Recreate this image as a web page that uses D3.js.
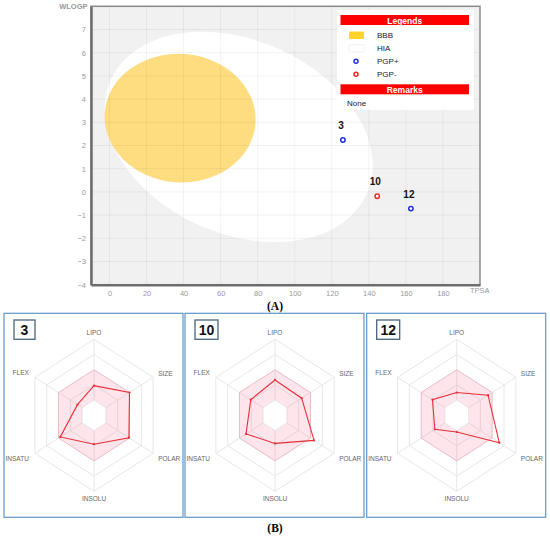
<!DOCTYPE html>
<html>
<head>
<meta charset="utf-8">
<script src="https://cdn.jsdelivr.net/npm/d3@7"></script>
<style>
  body { margin: 0; background: #fff; }
  text { font-family: Arial, "Liberation Sans", sans-serif; }
  text.caption { font-family: "Liberation Serif", "Times New Roman", serif; }
</style>
</head>
<body>
<script>
// ---- data ----
const xTicks = [0, 20, 40, 60, 80, 100, 120, 140, 160, 180];
const yTicks = [-4, -3, -2, -1, 0, 1, 2, 3, 4, 5, 6, 7];

// egg regions: centre (TPSA, WLOGP), semi axes in TPSA / WLOGP units, tilt (deg)
const eggNames = ['HIA', 'BBB'];
const eggCx = [69.7, 38.1];
const eggCy = [2.37, 3.18];
const eggRx = [75.7, 40.8];
const eggRy = [4.17, 2.77];
const eggTilt = [24, 4];

const molIds = ['3', '10', '12'];
const molTPSA = [126, 144.5, 162.7];
const molWLOGP = [2.24, -0.19, -0.72];
const molPGP = ['+', '-', '+'];

const legendLabels = ['BBB', 'HIA', 'PGP+', 'PGP-'];

const radarAxes = ['LIPO', 'SIZE', 'POLAR', 'INSOLU', 'INSATU', 'FLEX'];
const radar3 = [0.39, 0.60, 0.59, 0.38, 0.57, 0.28];
const radar10 = [0.465, 0.45, 0.66, 0.37, 0.49, 0.41];
const radar12 = [0.30, 0.53, 0.72, 0.22, 0.37, 0.41];
const radarSeries = [radar3, radar10, radar12];
const radarLevels = [0.2, 0.4, 0.6, 0.8, 1.0];
const optimalRange = [0.2, 0.6];

const W = 550, H = 538;
const svg = d3.select('body').append('svg')
    .attr('width', W)
    .attr('height', H);

// ---- (A) boiled egg ----
const x = d3.scaleLinear().domain([-10, 200]).range([91, 480]);
const y = d3.scaleLinear().domain([-4, 8]).range([284.7, 6.3]);

const plot = svg.append('g');
plot.append('rect')
    .attr('x', x(-10)).attr('y', y(8))
    .attr('width', x(200) - x(-10)).attr('height', y(-4) - y(8))
    .attr('fill', '#f1f1f1');

const eggColors = ['#ffffff', '#fedd80'];
eggNames.forEach((n, i) => {
    const px = x(eggCx[i]), py = y(eggCy[i]);
    plot.append('ellipse')
        .attr('cx', px).attr('cy', py)
        .attr('rx', x(eggRx[i]) - x(0))
        .attr('ry', y(0) - y(eggRy[i]))
        .attr('fill', eggColors[i])
        .attr('transform', `rotate(${eggTilt[i]}, ${px}, ${py})`);
});

// grid over the egg, very faint
plot.selectAll('.gx').data(xTicks).enter().append('line')
    .attr('x1', d => x(d)).attr('x2', d => x(d))
    .attr('y1', y(8)).attr('y2', y(-4))
    .attr('stroke', 'rgba(0,0,0,0.05)');
plot.selectAll('.gy').data(yTicks).enter().append('line')
    .attr('y1', d => y(d)).attr('y2', d => y(d))
    .attr('x1', x(-10)).attr('x2', x(200))
    .attr('stroke', 'rgba(0,0,0,0.05)');

// frame
plot.append('rect')
    .attr('x', x(-10)).attr('y', y(8))
    .attr('width', x(200) - x(-10)).attr('height', y(-4) - y(8))
    .attr('fill', 'none').attr('stroke', '#8a8a8a').attr('stroke-width', 1.5);

const xAxis = d3.axisBottom(x).tickValues(xTicks).tickSize(0).tickPadding(6);
const yAxis = d3.axisLeft(y).tickValues(yTicks).tickSize(0).tickPadding(5);

plot.append('g').attr('transform', `translate(0, ${y(-4)})`).call(xAxis)
    .call(g => g.select('.domain').attr('stroke', '#6e6e6e').attr('stroke-width', 2.5))
    .call(g => g.selectAll('text').attr('fill', '#999').attr('font-size', 7.5).attr('font-family', 'Arial, sans-serif'));
plot.append('g').attr('transform', `translate(${x(-10)}, 0)`).call(yAxis)
    .call(g => g.select('.domain').attr('stroke', '#6e6e6e').attr('stroke-width', 2.5))
    .call(g => g.selectAll('text').attr('fill', '#999').attr('font-size', 7.5).attr('font-family', 'Arial, sans-serif'));

plot.append('text').attr('x', 87.5).attr('y', 9)
    .attr('text-anchor', 'end').attr('font-size', 7.5).attr('fill', '#999')
    .attr('font-weight', 'bold').text('WLOGP');
plot.append('text').attr('x', 470).attr('y', 293)
    .attr('font-size', 7.5).attr('fill', '#999').text('TPSA');

// molecules
const pgpColor = { '+': '#1f2fe0', '-': '#ee2a24' };
molIds.forEach((id, i) => {
    const px = x(molTPSA[i]), py = y(molWLOGP[i]);
    plot.append('circle')
        .attr('cx', px).attr('cy', py).attr('r', 2.2)
        .attr('fill', '#fff').attr('stroke', pgpColor[molPGP[i]]).attr('stroke-width', 1.5);
    plot.append('text')
        .attr('x', px - 2).attr('y', py - 11)
        .attr('text-anchor', 'middle')
        .attr('font-size', 10).attr('font-weight', 'bold').attr('fill', '#111')
        .text(id);
});

// legend box
const lg = plot.append('g');
lg.append('rect').attr('x', 337).attr('y', 10).attr('width', 137).attr('height', 100).attr('fill', '#fff');
lg.append('rect').attr('x', 340.5).attr('y', 15).attr('width', 128.5).attr('height', 10).attr('fill', '#ff0000');
lg.append('text').attr('x', 404.7).attr('y', 23.5).attr('text-anchor', 'middle')
    .attr('font-size', 8.5).attr('font-weight', 'bold').attr('fill', '#fff').text('Legends');

legendLabels.forEach((lab, i) => {
    const cy = 35.3 + i * 13;
    if (i === 0) {
        lg.append('rect').attr('x', 349).attr('y', cy - 3.7).attr('width', 15).attr('height', 7.4)
            .attr('rx', 1).attr('fill', '#ffd42a');
    } else if (i === 1) {
        lg.append('rect').attr('x', 349).attr('y', cy - 3.7).attr('width', 15).attr('height', 7.4)
            .attr('rx', 1).attr('fill', '#fff').attr('stroke', '#eee').attr('stroke-width', 0.8);
    } else {
        lg.append('circle').attr('cx', 356).attr('cy', cy).attr('r', 2)
            .attr('fill', '#fff').attr('stroke', pgpColor[i === 2 ? '+' : '-']).attr('stroke-width', 1.5);
    }
    lg.append('text').attr('x', 377).attr('y', cy + 3).attr('font-size', 8).attr('fill', '#222').text(lab);
});

lg.append('rect').attr('x', 340.5).attr('y', 84.3).attr('width', 128.5).attr('height', 10).attr('fill', '#ff0000');
lg.append('text').attr('x', 404.7).attr('y', 92.8).attr('text-anchor', 'middle')
    .attr('font-size', 8.5).attr('font-weight', 'bold').attr('fill', '#fff').text('Remarks');
lg.append('text').attr('x', 347).attr('y', 105.5).attr('font-size', 8).attr('fill', '#222').text('None');

svg.append('text').attr('class', 'caption').attr('x', 275).attr('y', 310).attr('text-anchor', 'middle')
    .attr('font-size', 11.5).attr('font-weight', 'bold').text('(A)');

// ---- (B) bioavailability radars ----
const panelLeft = [4, 185, 366.7];
const panelW = 179, panelTop = 313.3, panelH = 204;
const rxScale = d3.scaleLinear().domain([0, 1]).range([0, 68.3]);
const ryScale = d3.scaleLinear().domain([0, 1]).range([0, 76]);
const ang = d3.scaleLinear().domain([0, radarAxes.length]).range([0, 2 * Math.PI]);

function pt(i, v) {
    const a = ang(i);
    return [rxScale(v) * Math.sin(a), -ryScale(v) * Math.cos(a)];
}
function ring(v) {
    return radarAxes.map((_, i) => pt(i, v));
}
const closed = d3.line().curve(d3.curveLinearClosed);

radarSeries.forEach((vals, k) => {
    const g = svg.append('g');
    g.append('rect')
        .attr('x', panelLeft[k]).attr('y', panelTop)
        .attr('width', panelW).attr('height', panelH)
        .attr('fill', '#fff').attr('stroke', '#5d97c9').attr('stroke-width', 1.2);

    const idW = molIds[k].length > 1 ? 23 : 21;
    g.append('rect')
        .attr('x', panelLeft[k] + 10).attr('y', 320)
        .attr('width', idW).attr('height', 19.3)
        .attr('fill', '#fff').attr('stroke', '#48657f').attr('stroke-width', 1.3);
    g.append('text')
        .attr('x', panelLeft[k] + 10 + idW / 2).attr('y', 335)
        .attr('text-anchor', 'middle').attr('font-size', 14).attr('font-weight', 'bold')
        .attr('fill', '#111').text(molIds[k]);

    const cx = panelLeft[k] + panelW / 2 + 0.5, cy = 415.3;
    const r = g.append('g').attr('transform', `translate(${cx}, ${cy})`);

    radarLevels.forEach(lv => {
        r.append('path').attr('d', closed(ring(lv)))
            .attr('fill', 'none').attr('stroke', '#e4e4e4').attr('stroke-width', 0.9);
    });
    radarAxes.forEach((_, i) => {
        const p = pt(i, 1);
        r.append('line').attr('x1', 0).attr('y1', 0).attr('x2', p[0]).attr('y2', p[1])
            .attr('stroke', '#e4e4e4').attr('stroke-width', 0.9);
    });

    // optimal range band
    r.append('path').attr('d', closed(ring(optimalRange[1])))
        .attr('fill', 'rgba(240,80,120,0.15)').attr('stroke', 'rgba(240,110,140,0.35)').attr('stroke-width', 0.8);
    r.append('path').attr('d', closed(ring(optimalRange[0])))
        .attr('fill', '#fff').attr('stroke', '#e8e8e8').attr('stroke-width', 0.8);

    const poly = vals.map((v, i) => pt(i, v));
    r.append('path').attr('d', closed(poly))
        .attr('fill', 'none').attr('stroke', '#e8303a').attr('stroke-width', 1.1);
    r.selectAll('.dot').data(poly).enter().append('circle')
        .attr('cx', d => d[0]).attr('cy', d => d[1]).attr('r', 1.1).attr('fill', '#e8303a');

    radarAxes.forEach((lab, i) => {
        const p = pt(i, 1);
        let dx = 0, dy = 0, anchor = 'middle';
        if (i === 0) { dy = -4; }
        else if (i === 3) { dy = 10; }
        else if (i === 1) { dx = 5; dy = -1; anchor = 'start'; }
        else if (i === 2) { dx = 5; dy = 7.5; anchor = 'start'; }
        else if (i === 4) { dx = -6; dy = 7.5; anchor = 'end'; }
        else { dx = -6; dy = -2; anchor = 'end'; }
        r.append('text').attr('x', p[0] + dx).attr('y', p[1] + dy)
            .attr('text-anchor', anchor).attr('font-size', 6.5).attr('fill', '#666').text(lab);
    });
});

svg.append('text').attr('class', 'caption').attr('x', 275).attr('y', 532).attr('text-anchor', 'middle')
    .attr('font-size', 11.5).attr('font-weight', 'bold').text('(B)');
</script>
</body>
</html>
